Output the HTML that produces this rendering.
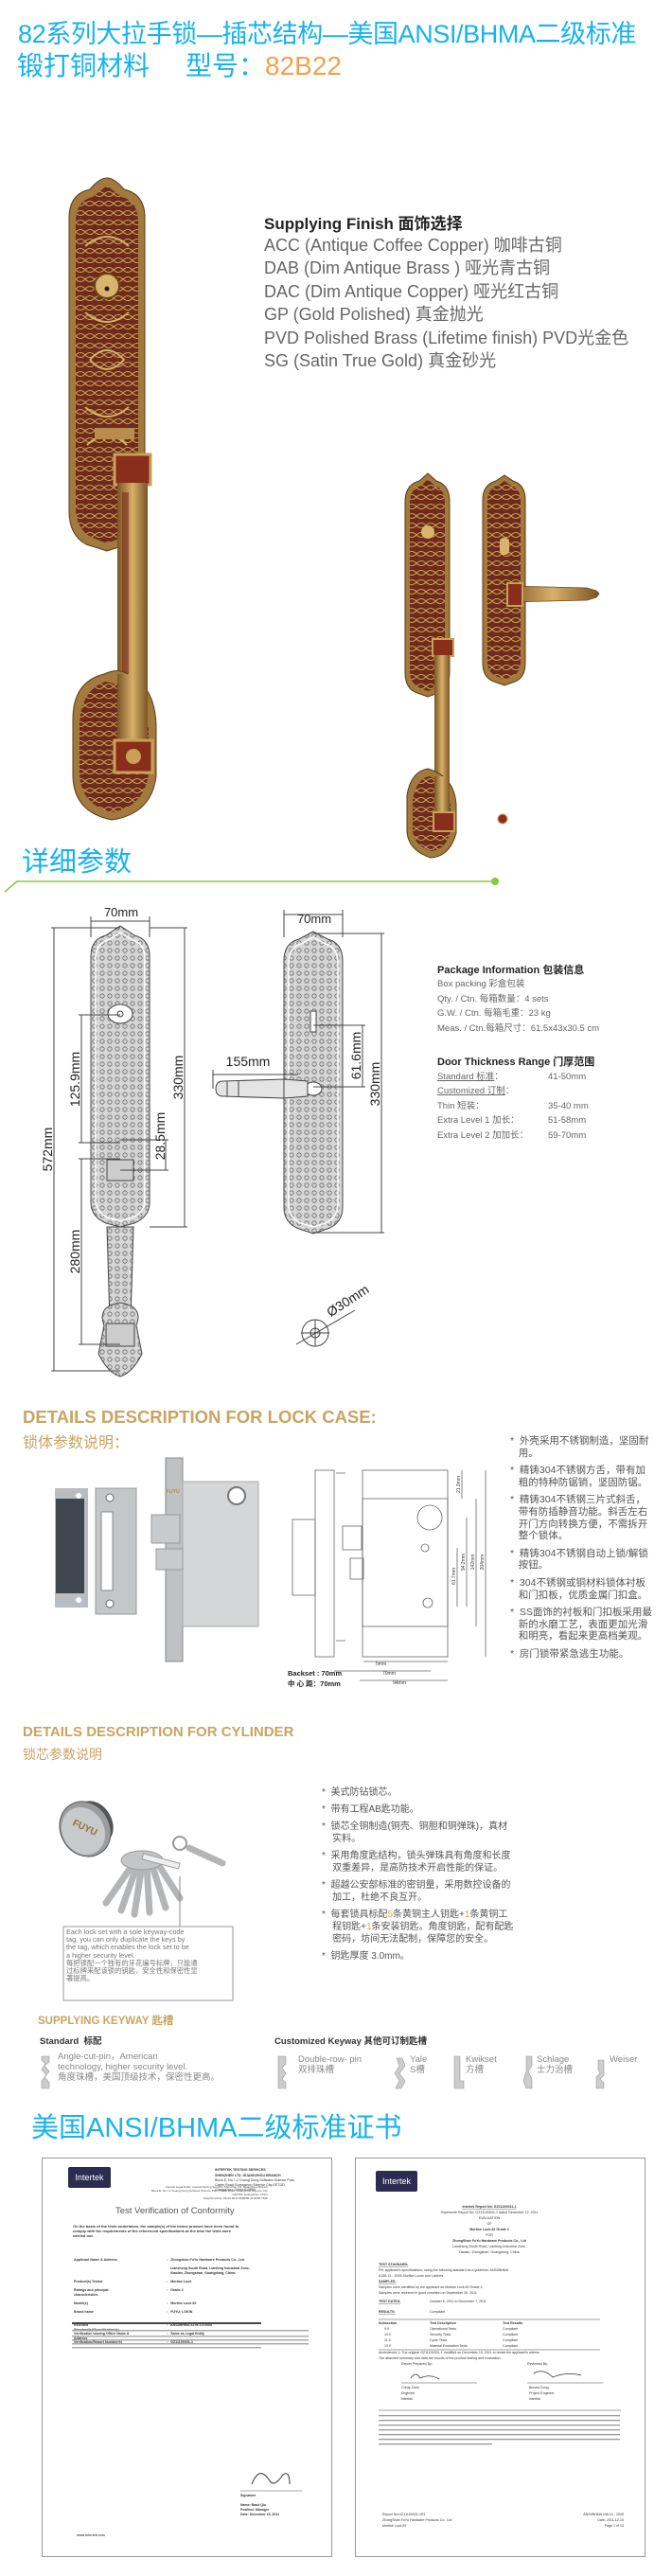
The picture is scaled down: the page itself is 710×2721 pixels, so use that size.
<!DOCTYPE html>
<html><head><meta charset="utf-8">
<style>
html,body{margin:0;padding:0;background:#fff;}
body{width:710px;height:2721px;position:relative;overflow:hidden;font-family:"Liberation Sans","Noto Sans CJK SC",sans-serif;}
.a{position:absolute;white-space:nowrap;}
svg text{font-family:"Liberation Sans","Noto Sans CJK SC",sans-serif;}
</style></head><body>

<div class="a" style="left:19px;top:20px;font-size:27px;line-height:32px;color:#17b2ee;letter-spacing:-0.4px;">82系列大拉手锁—插芯结构—美国ANSI/BHMA二级标准</div>
<div class="a" style="left:18px;top:54px;font-size:28px;line-height:32px;color:#17b2ee;">锻打铜材料<span style="display:inline-block;width:38px"></span>型号：<span style="color:#f5a04e">82B22</span></div>

<div class="a" style="left:279px;top:222px;font-size:17px;font-weight:bold;color:#222;">Supplying Finish 面饰选择</div>
<div class="a" style="left:279px;top:247px;font-size:18px;line-height:24.4px;color:#666;">ACC (Antique Coffee Copper) 咖啡古铜<br>DAB (Dim Antique Brass ) 哑光青古铜<br>DAC (Dim Antique Copper) 哑光红古铜<br>GP (Gold Polished) 真金抛光<br>PVD Polished Brass (Lifetime finish) PVD光金色<br>SG (Satin True Gold) 真金砂光</div>

<svg class="a" style="left:0;top:0" width="710" height="2721" viewBox="0 0 710 2721">
<defs>
<linearGradient id="gd" x1="0" x2="1"><stop offset="0" stop-color="#7a5424"/><stop offset=".5" stop-color="#d8b06a"/><stop offset="1" stop-color="#7a5424"/></linearGradient>
<pattern id="orn" width="8" height="8" patternUnits="userSpaceOnUse"><rect width="8" height="8" fill="#d6d6d6"/><circle cx="4" cy="4" r="2.2" fill="none" stroke="#666" stroke-width=".8"/></pattern>
<pattern id="orng" width="10" height="10" patternUnits="userSpaceOnUse"><rect width="10" height="10" fill="#6e2a1a"/><path d="M0 5 Q5 0 10 5 Q5 10 0 5" fill="none" stroke="#c9a05a" stroke-width="1"/></pattern>
</defs>
<path d="M73 230 Q73 205 95 200 Q105 188 113 188 Q121 188 131 200 Q153 205 153 230 L153 540 Q153 565 135 575 L113 582 L91 575 Q73 565 73 540Z" fill="#a27a3e" stroke="#5c3a16"/>
<path d="M80 235 Q80 212 98 208 L113 196 L128 208 Q146 212 146 235 L146 535 Q146 560 128 568 L113 574 L98 568 Q80 560 80 535Z" fill="url(#orng)"/>
<g fill="none" stroke="#d8b06a" stroke-width="2"><path d="M90 260 Q113 240 136 260 M90 330 Q113 350 136 330 M95 380 Q113 360 131 380 Q113 400 95 380 M90 430 Q113 450 136 430 M92 470 Q113 450 134 470"/></g>
<circle cx="113" cy="302" r="13" fill="#d9b46c" stroke="#6a4418" stroke-width="2"/><circle cx="113" cy="305" r="2.5" fill="#222"/>
<rect x="100" y="452" width="42" height="12" fill="#b88c4c"/>
<rect x="121" y="480" width="38" height="32" fill="#8a2e1c" stroke="#c9a05a" stroke-width="3"/>
<rect x="124" y="510" width="32" height="285" fill="url(#gd)"/>
<rect x="129" y="520" width="7" height="260" fill="#7a2a1a" opacity=".6"/>
<path d="M77 760 Q77 720 110 712 Q125 705 135 712 Q165 725 165 770 L165 820 Q160 860 118 866 Q78 858 77 820Z" fill="#a27a3e" stroke="#5c3a16"/>
<path d="M84 765 Q86 728 112 720 Q150 728 157 770 L157 818 Q152 852 118 858 Q86 850 84 818Z" fill="url(#orng)"/>
<rect x="124" y="712" width="32" height="75" fill="url(#gd)"/>
<rect x="121" y="782" width="40" height="34" fill="#8a2e1c" stroke="#c9a05a" stroke-width="3"/>
<circle cx="141" cy="799" r="8" fill="#c9a05a"/>
<path d="M428 530 Q428 512 443 508 L452 500 L461 508 Q475 512 475 530 L475 710 Q475 728 463 732 L452 736 L441 732 Q428 728 428 710Z" fill="#a27a3e" stroke="#5c3a16"/>
<path d="M433 532 Q433 516 445 513 L452 506 L459 513 Q470 516 470 532 L470 708 Q470 722 460 727 L452 730 L444 727 Q433 722 433 708Z" fill="url(#orng)"/>
<circle cx="452" cy="562" r="7" fill="#d9b46c"/>
<rect x="457" y="675" width="22" height="18" fill="#8a2e1c" stroke="#c9a05a" stroke-width="2"/>
<rect x="459" y="692" width="16" height="195" fill="url(#gd)"/>
<path d="M430 840 Q434 815 452 812 Q480 820 482 850 L482 880 Q475 905 455 906 Q431 898 430 878Z" fill="#a27a3e" stroke="#5c3a16"/>
<path d="M436 845 Q440 822 454 820 Q474 828 476 852 L476 878 Q471 898 455 899 Q436 892 436 876Z" fill="url(#orng)"/>
<rect x="459" y="820" width="16" height="40" fill="url(#gd)"/>
<rect x="458" y="858" width="22" height="20" fill="#8a2e1c" stroke="#c9a05a" stroke-width="2"/>
<path d="M510 528 Q510 512 524 508 L533 502 L542 508 Q555 512 555 528 L555 700 Q555 716 544 720 L533 724 L522 720 Q510 716 510 700Z" fill="#a27a3e" stroke="#5c3a16"/>
<path d="M515 530 Q515 516 526 513 L533 508 L540 513 Q550 516 550 530 L550 698 Q550 710 542 714 L533 718 L524 714 Q515 710 515 698Z" fill="url(#orng)"/>
<rect x="528" y="568" width="10" height="18" rx="4" fill="#d9b46c"/>
<path d="M535 619 L620 621 L630 624 L633 627 L630 631 L620 634 L535 636Z" fill="url(#gd)" stroke="#6a4418" stroke-width=".8"/>
<rect x="536" y="616" width="16" height="24" fill="#8a2e1c" stroke="#c9a05a" stroke-width="2"/>
<circle cx="531" cy="865" r="5" fill="#8a2e1c" stroke="#c9a05a"/>

<text x="23" y="920" font-size="29" fill="#17b2ee">详细参数</text>
<path d="M5 942 L18 931 L522 931" stroke="#8cc63f" stroke-width="1.5" fill="none"/>
<circle cx="523" cy="931" r="4" fill="#8cc63f"/>

<g stroke="#444" stroke-width="1">
<path d="M96 1010 Q96 992 112 988 L127 978 L142 988 Q158 992 158 1010 L158 1270 Q158 1285 142 1292 L127 1296 L112 1292 Q96 1285 96 1270Z" fill="url(#orn)"/>
<path d="M113 1296 L141 1296 L138 1395 L116 1395Z" fill="url(#orn)"/>
<path d="M110 1400 Q102 1380 127 1376 Q152 1380 144 1400 L150 1430 Q140 1450 127 1454 Q114 1450 104 1430Z" fill="url(#orn)"/>
</g>
<g stroke="#444" fill="none" stroke-width="1">
<path d="M101 1012 Q101 997 114 993 L127 985 L140 993 Q153 997 153 1012 L153 1268 Q153 1280 140 1286 L127 1290 L114 1286 Q101 1280 101 1268Z" stroke="#fff" stroke-width="1.5"/>
<ellipse cx="127" cy="1071" rx="13" ry="10" fill="#fff"/><circle cx="127" cy="1071" r="3"/>
<rect x="113" y="1225" width="28" height="22" fill="#ccc"/>
<rect x="112" y="1398" width="30" height="24" fill="#ccc"/>
<path d="M96 968 L96 990 M158 968 L158 990 M96 973 L158 973"/>
<path d="M57 980 L57 1448 M54 980 L127 980 M54 1448 L127 1448"/>
<path d="M86 1072 L86 1207 M83 1072 L127 1072 M83 1207 L127 1207"/>
<path d="M86 1224 L86 1420 M83 1224 L127 1224 M83 1420 L127 1420"/>
<path d="M175 1204 L175 1236 M127 1204 L178 1204 M127 1236 L178 1236"/>
<path d="M195 980 L195 1296 M158 980 L198 980 M158 1296 L198 1296"/>
</g>
<g font-size="14" fill="#222">
<text x="128" y="968" text-anchor="middle" font-size="13">70mm</text>
<text transform="translate(55 1214) rotate(-90)" text-anchor="middle">572mm</text>
<text transform="translate(84 1140) rotate(-90)" text-anchor="middle">125.9mm</text>
<text transform="translate(84 1322) rotate(-90)" text-anchor="middle">280mm</text>
<text transform="translate(174 1200) rotate(-90)" text-anchor="middle">28.5mm</text>
<text transform="translate(193 1138) rotate(-90)" text-anchor="middle">330mm</text>
</g>
<g stroke="#444" stroke-width="1">
<path d="M300 1015 Q300 996 316 992 L331 984 L346 992 Q362 996 362 1015 L362 1275 Q362 1292 346 1298 L331 1303 L316 1298 Q300 1292 300 1275Z" fill="url(#orn)"/>
</g>
<g stroke="#444" fill="none" stroke-width="1">
<path d="M305 1017 Q305 1001 318 997 L331 990 L344 997 Q357 1001 357 1017 L357 1272 Q357 1286 344 1292 L331 1296 L318 1292 Q305 1286 305 1272Z" stroke="#fff" stroke-width="1.5"/>
<rect x="328" y="1068" width="6" height="22" fill="#fff"/>
<ellipse cx="331" cy="1150" rx="9" ry="7" fill="#fff"/>
<path d="M228 1150 Q228 1142 236 1142 L300 1140 L325 1142 L325 1158 L300 1160 L236 1158 Q228 1158 228 1150Z" fill="#e4e4e4"/>
<path d="M240 1142 L240 1158 M252 1141 L252 1159 M300 1140 L300 1160"/>
<path d="M300 961 L300 990 M362 961 L362 990 M300 966 L362 966"/>
<path d="M225 1130 L225 1150 M225 1135 L315 1135"/>
<path d="M383 1083 L383 1148 M331 1083 L386 1083 M331 1148 L386 1148"/>
<path d="M403 986 L403 1302 M331 986 L406 986 M331 1302 L406 1302"/>
<circle cx="333" cy="1408" r="14"/><circle cx="333" cy="1408" r="5"/>
<path d="M313 1420 L375 1384 M318 1408 L348 1408 M333 1394 L333 1422"/>
</g>
<g font-size="14" fill="#222">
<text x="332" y="975" text-anchor="middle" font-size="13">70mm</text>
<text x="262" y="1126" text-anchor="middle">155mm</text>
<text transform="translate(381 1115) rotate(-90)" text-anchor="middle">61.6mm</text>
<text transform="translate(401 1145) rotate(-90)" text-anchor="middle">330mm</text>
<text transform="translate(370 1378) rotate(-33)" text-anchor="middle">Ø30mm</text>
</g>

<rect x="58" y="1572" width="35" height="126" fill="#b9bcc0"/>
<rect x="59" y="1583" width="30" height="100" fill="#3e4650"/>
<circle cx="83" cy="1580" r="3" fill="#fff"/><circle cx="83" cy="1690" r="3" fill="#fff"/>
<rect x="101" y="1572" width="43" height="133" fill="#c4c6c8" stroke="#999"/>
<rect x="107" y="1597" width="12" height="83" fill="#fff" stroke="#888"/>
<circle cx="116" cy="1582" r="4" fill="#fff" stroke="#666"/><circle cx="116" cy="1694" r="4" fill="#fff" stroke="#666"/>
<rect x="175" y="1540" width="18" height="215" fill="#bfc1c3" stroke="#888"/>
<rect x="193" y="1565" width="80" height="153" fill="#d4d6d8" stroke="#aaa"/>
<circle cx="250" cy="1580" r="9" fill="#fff" stroke="#777" stroke-width="2"/>
<rect x="160" y="1600" width="30" height="30" fill="#c8cacc" stroke="#999"/>
<rect x="165" y="1636" width="28" height="22" fill="#c8cacc" stroke="#999"/>
<text x="176" y="1577" font-size="5" fill="#a07a3a">FUYU</text>
<g stroke="#666" fill="none" stroke-width=".8">
<rect x="333" y="1553" width="20" height="197"/>
<rect x="309" y="1605" width="24" height="80"/>
<rect x="383" y="1553" width="90" height="197"/>
<rect x="383" y="1583" width="90" height="135"/>
<circle cx="454" cy="1603" r="13"/>
<circle cx="449" cy="1635" r="4"/><circle cx="452" cy="1693" r="5"/>
<rect x="362" y="1612" width="20" height="25"/><rect x="370" y="1646" width="14" height="22"/>
<path d="M355 1556 L365 1556 M355 1733 L365 1733"/>
<path d="M513 1553 L513 1750 M503 1583 L503 1718 M493 1603 L493 1697 M483 1635 L483 1697 M488 1553 L488 1583"/>
<path d="M384 1755 L473 1755 M353 1765 L455 1765 M380 1775 L473 1775"/>
</g>
<g font-size="5" fill="#333">
<text transform="translate(511 1650) rotate(-90)" text-anchor="middle">204mm</text>
<text transform="translate(501 1650) rotate(-90)" text-anchor="middle">142mm</text>
<text transform="translate(491 1650) rotate(-90)" text-anchor="middle">94.2mm</text>
<text transform="translate(481 1665) rotate(-90)" text-anchor="middle">61.7mm</text>
<text transform="translate(486 1568) rotate(-90)" text-anchor="middle">21.3mm</text>
<text x="397" y="1759">5mm</text><text x="404" y="1769">70mm</text><text x="415" y="1779">94mm</text>
</g>
<text x="304" y="1770" font-size="7.5" font-weight="bold" fill="#222">Backset : 70mm</text>
<text x="304" y="1781" font-size="7.5" font-weight="bold" fill="#222">中 心 距：70mm</text>

<ellipse cx="100" cy="1925" rx="18" ry="24" fill="#555" transform="rotate(-30 100 1925)"/>
<ellipse cx="90" cy="1932" rx="26" ry="30" fill="#9a9c9e" stroke="#555" transform="rotate(-30 90 1932)"/>
<ellipse cx="88" cy="1934" rx="22" ry="26" fill="#c8c9ca" transform="rotate(-30 88 1934)"/>
<text x="76" y="1932" font-size="10" font-weight="bold" fill="#8a7040" transform="rotate(25 86 1930)">FUYU</text>
<g stroke="#b4b5b6" stroke-width="7" stroke-linecap="round">
<path d="M140 1970 L112 2010 M145 1970 L128 2018 M150 1970 L142 2022 M155 1970 L158 2020 M160 1968 L175 2015 M165 1966 L190 2005"/>
<path d="M200 1952 L235 1968"/>
</g>
<ellipse cx="150" cy="1965" rx="22" ry="10" fill="#c4c5c6" stroke="#999"/>
<circle cx="190" cy="1947" r="7" fill="none" stroke="#999" stroke-width="2"/>
<rect x="150" y="1963" width="40" height="6" fill="#eee" stroke="#999" transform="rotate(15 170 1966)"/>
<path d="M190 1982 L190 2035" stroke="#888"/>
<rect x="67" y="2035" width="179" height="78" fill="none" stroke="#999"/>
</svg>

<div class="a" style="left:24px;top:1486px;font-size:18.5px;font-weight:bold;color:#c9a463;">DETAILS DESCRIPTION FOR LOCK CASE:</div>
<div class="a" style="left:24px;top:1510px;font-size:16px;color:#c9a463;">锁体参数说明：</div>
<div class="a" style="left:539px;top:1516px;font-size:10.5px;line-height:12.6px;color:#555;white-space:normal;width:160px;">
<div style="margin-bottom:6px">*&nbsp; 外壳采用不锈钢制造，坚固耐<br>&nbsp;&nbsp;&nbsp;用。</div>
<div style="margin-bottom:6px">*&nbsp; 精铸304不锈钢方舌，带有加<br>&nbsp;&nbsp;&nbsp;粗的特种防锯销，坚固防锯。</div>
<div style="margin-bottom:6px">*&nbsp; 精铸304不锈钢三片式斜舌，<br>&nbsp;&nbsp;&nbsp;带有防插静音功能。斜舌左右<br>&nbsp;&nbsp;&nbsp;开门方向转换方便，不需拆开<br>&nbsp;&nbsp;&nbsp;整个锁体。</div>
<div style="margin-bottom:6px">*&nbsp; 精铸304不锈钢自动上锁/解锁<br>&nbsp;&nbsp;&nbsp;按钮。</div>
<div style="margin-bottom:6px">*&nbsp; 304不锈钢或铜材料锁体衬板<br>&nbsp;&nbsp;&nbsp;和门扣板，优质金属门扣盒。</div>
<div style="margin-bottom:6px">*&nbsp; SS面饰的衬板和门扣板采用最<br>&nbsp;&nbsp;&nbsp;新的水磨工艺，表面更加光滑<br>&nbsp;&nbsp;&nbsp;和明亮，看起来更高档美观。</div>
<div>*&nbsp; 房门锁带紧急逃生功能。</div>
</div>

<div class="a" style="left:462px;top:1016px;font-size:11px;font-weight:bold;color:#222;">Package Information 包装信息</div>
<div class="a" style="left:462px;top:1032px;font-size:9.5px;line-height:15.6px;color:#666;">Box packing 彩盒包装<br>Qty. / Ctn. 每箱数量：4 sets<br>G.W. / Ctn. 每箱毛重：23 kg<br>Meas. / Ctn.每箱尺寸：61.5x43x30.5 cm</div>
<div class="a" style="left:462px;top:1113px;font-size:11px;font-weight:bold;color:#222;">Door Thickness Range 门厚范围</div>
<div class="a" style="left:462px;top:1130px;font-size:9.5px;line-height:15.4px;color:#666;"><u>Standard 标准</u>：<br><u>Customized 订制</u>：<br>Thin 短装：<br>Extra Level 1 加长：<br>Extra Level 2 加加长：</div>
<div class="a" style="left:579px;top:1130px;font-size:9.5px;line-height:15.4px;color:#666;">41-50mm<br>&nbsp;<br>35-40 mm<br>51-58mm<br>59-70mm</div>

<div class="a" style="left:24px;top:1821px;font-size:15px;font-weight:bold;color:#c9a463;">DETAILS DESCRIPTION FOR CYLINDER</div>
<div class="a" style="left:24px;top:1843px;font-size:14px;color:#c9a463;">锁芯参数说明</div>
<div class="a" style="left:70px;top:2037px;font-size:7.3px;line-height:8.2px;color:#777;">Each lock set with a sole keyway-code<br>tag, you can only duplicate the keys by<br>the tag, which enables the lock set to be<br>a higher security level.<br>每把锁配一个独有的牙花编号标牌，只能通<br>过标牌来配该锁的钥匙，安全性和保密性显<br>著提高。</div>
<div class="a" style="left:340px;top:1887px;font-size:10px;line-height:13px;color:#555;">
*&nbsp; 美式防钻锁芯。<br><div style="height:5px"></div>*&nbsp; 带有工程AB匙功能。<div style="height:5px"></div>*&nbsp; 锁芯全铜制造(铜壳、铜胆和铜弹珠)，真材<br>&nbsp;&nbsp;&nbsp;&nbsp;实料。<div style="height:5px"></div>*&nbsp; 采用角度匙结构，锁头弹珠具有角度和长度<br>&nbsp;&nbsp;&nbsp;&nbsp;双重差异，是高防技术开启性能的保证。<div style="height:5px"></div>*&nbsp; 超越公安部标准的密钥量，采用数控设备的<br>&nbsp;&nbsp;&nbsp;&nbsp;加工，杜绝不良互开。<div style="height:5px"></div>*&nbsp; 每套锁具标配<span style="color:#f0a050">5</span>条黄铜主人钥匙+<span style="color:#f0a050">1</span>条黄铜工<br>&nbsp;&nbsp;&nbsp;&nbsp;程钥匙+<span style="color:#f0a050">1</span>条安装钥匙。角度钥匙，配有配匙<br>&nbsp;&nbsp;&nbsp;&nbsp;密码，坊间无法配制，保障您的安全。<div style="height:5px"></div>*&nbsp; 钥匙厚度 3.0mm。</div>

<div class="a" style="left:40px;top:2126px;font-size:11.5px;font-weight:bold;color:#c9a463;">SUPPLYING KEYWAY 匙槽</div>
<div class="a" style="left:42px;top:2148px;font-size:9.5px;font-weight:bold;color:#333;">Standard&nbsp; 标配</div>
<div class="a" style="left:290px;top:2148px;font-size:9.5px;font-weight:bold;color:#333;">Customized Keyway 其他可订制匙槽</div>
<div class="a" style="left:61px;top:2167px;font-size:9.5px;line-height:11px;color:#888;">Angle-cut-pin，American<br>technology, higher security level.<br>角度珠槽，美国顶级技术，保密性更高。</div>
<div class="a" style="left:315px;top:2170px;font-size:9.5px;line-height:11px;color:#888;">Double-row- pin<br>双排珠槽</div>
<div class="a" style="left:433px;top:2170px;font-size:9.5px;line-height:11px;color:#888;">Yale<br>S槽</div>
<div class="a" style="left:492px;top:2170px;font-size:9.5px;line-height:11px;color:#888;">Kwikset<br>方槽</div>
<div class="a" style="left:567px;top:2170px;font-size:9.5px;line-height:11px;color:#888;">Schlage<br>士力治槽</div>
<div class="a" style="left:644px;top:2170px;font-size:9.5px;line-height:11px;color:#888;">Weiser</div>
<svg class="a" style="left:0;top:2168px" width="710" height="42">
<g fill="#ccc" stroke="#999" stroke-width=".6">
<path d="M44 4 L52 4 L52 10 L47 14 L52 20 L47 26 L52 32 L52 38 L44 38 L44 30 L49 24 L44 18 L48 12 L44 8Z"/>
<path d="M294 4 L302 4 L302 12 L298 16 L302 22 L298 28 L302 32 L302 38 L294 38Z"/>
<path d="M419 6 L425 6 L428 14 L422 22 L428 30 L424 38 L418 38 L422 30 L417 22 L422 14Z"/>
<path d="M480 4 L486 4 L486 30 L490 30 L490 38 L480 38Z"/>
<path d="M556 4 L562 4 L562 14 L558 20 L562 28 L562 38 L556 38 L553 30 L556 20Z"/>
<path d="M632 8 L638 8 L638 24 L634 28 L638 32 L638 38 L630 38 L630 26 L634 22 L632 18Z"/>
</g></svg>

<div class="a" style="left:33px;top:2230px;font-size:29px;line-height:36px;color:#17b2ee;">美国ANSI/BHMA二级标准证书</div>

<div class="a" style="left:44px;top:2279px;width:305px;height:420px;border:1px solid #999;background:#fff;"></div>
<div class="a" style="left:375px;top:2279px;width:305px;height:420px;border:1px solid #999;background:#fff;"></div>
<div class="a" style="left:72px;top:2289px;width:45px;height:22px;background:#2d2b52;color:#fff;font-size:9px;line-height:22px;text-align:center;border-radius:2px;">Intertek</div>
<div class="a" style="left:397px;top:2293px;width:44px;height:22px;background:#2d2b52;color:#fff;font-size:9px;line-height:22px;text-align:center;border-radius:2px;">Intertek</div>
<div class="a" style="left:122px;top:2330px;font-size:9.5px;color:#555;">Test Verification of Conformity</div>
<div class="a" style="left:160px;top:2308px;font-size:3px;line-height:4px;color:#444;text-align:right;">Intertek Legal Entity: Intertek Testing Services Shenzhen Ltd. Guangzhou Branch<br>Block E, No.7-2 Guang Dong Software Science Park, Caipin Road, Guangzhou Science City<br>GETDD, Guangzhou, China<br>Telephone/Fax: 86-20-8213 9688/86-20-3205 7538</div>
<div class="a" style="left:77px;top:2349px;font-size:4px;line-height:5px;color:#333;font-weight:bold;">On the basis of the tests undertaken, the sample(s) of the below product have been found to<br>comply with the requirements of the referenced specifications at the time the tests were<br>carried out.</div>
<div class="a" style="left:78px;top:2385px;font-size:3.6px;line-height:4.6px;color:#333;font-weight:bold;">Applicant Name &amp; Address<br><br><br><br><br>Product(s) Tested<br><br>Ratings and principal<br>characteristics<br><br>Model(s)<br><br>Brand name<br><br><br>Relevant<br>Standard(s)/Specification(s)<br>Verification Issuing Office Name &amp;<br>Address<br>Verification/Report Number(s)</div>
<div class="a" style="left:176px;top:2385px;font-size:3.6px;line-height:4.6px;color:#333;font-weight:bold;">:&nbsp;&nbsp; Zhongshan FuYu Hardware Products Co., Ltd.<br><br>&nbsp;&nbsp;&nbsp; Liansheng South Road, Lianfeng Industrial Zone,<br>&nbsp;&nbsp;&nbsp; Xiaolan, Zhongshan, Guangdong, China.<br><br>:&nbsp;&nbsp; Mortise Lock<br><br>:&nbsp;&nbsp; Grade 2<br><br><br>:&nbsp;&nbsp; Mortise Lock 82<br><br>:&nbsp;&nbsp; FUYU; LOKIN<br><br><br>:&nbsp;&nbsp; ANSI/BHMA A156.13:2005<br><br>:&nbsp;&nbsp; Same as Legal Entity<br><br>:&nbsp;&nbsp; GZ11100031-1</div>
<svg class="a" style="left:44px;top:2279px" width="640" height="420">
<g fill="#aaa"><rect x="32" y="182" width="250" height="1.5"/><rect x="32" y="188" width="250" height="1.5"/><rect x="32" y="192" width="250" height="1.5"/><rect x="32" y="196" width="250" height="1.5"/><rect x="32" y="200" width="200" height="1.5"/></g>
<rect x="32" y="174" width="200" height="2" fill="#444"/>
<path d="M222 345 Q230 325 240 340 Q245 350 255 335 Q262 330 262 345" stroke="#333" fill="none"/>
<path d="M210 352 L275 352" stroke="#555" stroke-width=".6"/>
<text x="210" y="358" font-size="3.5" font-weight="bold" fill="#333">Signature</text>
<text x="210" y="368" font-size="3.5" font-weight="bold" fill="#333">Name: Baud Qiu</text>
<text x="210" y="373" font-size="3.5" font-weight="bold" fill="#333">Position: Manager</text>
<text x="210" y="378" font-size="3.5" font-weight="bold" fill="#333">Date: December 15, 2011</text>
<text x="37" y="400" font-size="3.5" font-weight="bold" fill="#555">www.intertek.com</text>
<g font-size="3.6" fill="#333">
<text x="183" y="14" font-weight="bold">INTERTEK TESTING SERVICES</text>
<text x="183" y="20" font-weight="bold">SHENZHEN LTD. GUANGZHOU BRANCH</text>
<text x="183" y="25">Block E, No.7-2 Guang Dong Software Science Park,</text>
<text x="183" y="30">Caipin Road,Guangzhou Science City,GETDD,</text>
<text x="183" y="35">Guangzhou, China 510663</text>
<text x="473" y="53" text-anchor="middle" font-weight="bold" text-decoration="underline">Intertek Report No. GZ11100031-1</text>
<text x="473" y="59" text-anchor="middle">Supersede Report No. GZ11100031-1 dated December 12, 2011</text>
<text x="473" y="65" text-anchor="middle">EVALUATION</text>
<text x="473" y="71" text-anchor="middle">OF</text>
<text x="473" y="77" text-anchor="middle" font-weight="bold">Mortise Lock 82  Grade 2</text>
<text x="473" y="83" text-anchor="middle">FOR</text>
<text x="473" y="89" text-anchor="middle" font-weight="bold">ZhongShan FuYu Hardware Products Co., Ltd</text>
<text x="473" y="95" text-anchor="middle">Liansheng  South Road, Lianfeng Industrial Zone,</text>
<text x="473" y="101" text-anchor="middle">Xiaolan, Zhongshan, Guangdong, China.</text>
<text x="356" y="114" font-weight="bold" text-decoration="underline">TEST STANDARD:</text>
<text x="356" y="120">Per applicant's specifications, using the following standard as a guideline:  ANSI/BHMA</text>
<text x="356" y="126">A156.13 - 2005  Mortise Locks and Latches</text>
<text x="356" y="132" font-weight="bold" text-decoration="underline">SAMPLES:</text>
<text x="356" y="138">Samples were identified by the applicant as  Mortise Lock 82  Grade 2.</text>
<text x="356" y="144">Samples were received in good condition on September 30, 2011.</text>
<text x="356" y="153" font-weight="bold" text-decoration="underline">TEST DATES:</text>
<text x="410" y="153">October 8, 2011 to December 7, 2011</text>
<text x="356" y="164" font-weight="bold" text-decoration="underline">RESULTS:</text>
<text x="410" y="164">Compliant</text>
<text x="356" y="176" font-weight="bold">Subsection</text><text x="410" y="176" font-weight="bold">Test Description</text><text x="487" y="176" font-weight="bold">Test Results</text>
<text x="362" y="182">9.0</text><text x="410" y="182">Operational Tests</text><text x="487" y="182">Compliant</text>
<text x="362" y="188">10.0</text><text x="410" y="188">Security Tests</text><text x="487" y="188">Compliant</text>
<text x="362" y="194">11.0</text><text x="410" y="194">Cycle Tests</text><text x="487" y="194">Compliant</text>
<text x="362" y="200">13.0</text><text x="410" y="200">Material Evaluation Tests</text><text x="487" y="200">Compliant</text>
<text x="356" y="207">Amendment 1: The original GZ11100031-1 modified on December 15, 2011 to revise the applicant's adress.</text>
<text x="356" y="213">The attached summary and data are results of the product testing and evaluation.</text>
<text x="380" y="219">Report Prepared By:</text><text x="513" y="219">Reviewed By:</text>
<text x="380" y="244">Credy Chen</text><text x="515" y="244">Blusea Dong</text>
<text x="380" y="250">Engineer</text><text x="515" y="250">Project Engineer</text>
<text x="380" y="256">Intertek</text><text x="515" y="256">Intertek</text>
<text x="360" y="378">Report No:GZ11100031-1R1</text>
<text x="360" y="384">ZhongShan FuYu Hardware Products Co., Ltd</text>
<text x="360" y="390">Mortise Lock 82</text>
<text x="615" y="378" text-anchor="end">ANSI/BHMA 156.13 - 2005</text>
<text x="615" y="384" text-anchor="end">Date: 2011-12-15</text>
<text x="615" y="390" text-anchor="end">Page 1 of 13</text>
</g>
<path d="M356 171 L590 171 M356 203 L590 203 M380 238 L460 238 M513 238 L593 238 M356 267 L612 267" stroke="#444" stroke-width=".6"/>
<path d="M390 233 Q395 225 400 233 Q410 228 420 234 M520 228 Q530 222 540 232 Q555 226 570 230" stroke="#333" fill="none" stroke-width=".8"/>
<g fill="#999"><rect x="356" y="272" width="255" height="1.3"/><rect x="356" y="277" width="255" height="1.3"/><rect x="356" y="282" width="255" height="1.3"/><rect x="356" y="287" width="255" height="1.3"/><rect x="356" y="292" width="255" height="1.3"/><rect x="356" y="297" width="255" height="1.3"/><rect x="356" y="302" width="120" height="1.3"/></g>
</svg>
</body></html>
